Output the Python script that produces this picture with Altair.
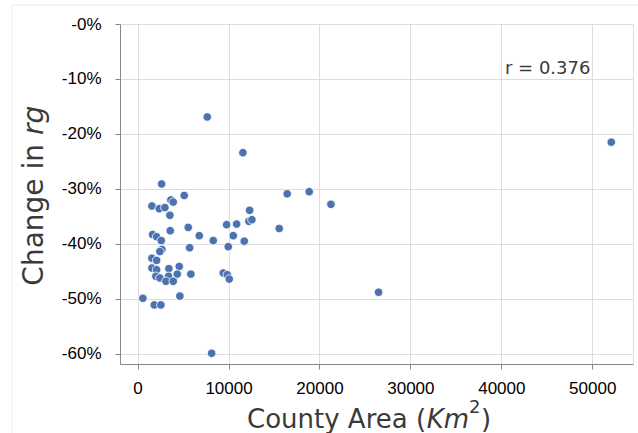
import altair as alt
import pandas as pd

# County land area (km^2) and relative change in rg for each county
area_km2 = [
    2640, 16450, 18870, 5125, 3660, 3920, 1573, 2380, 3000, 3550,
    12320, 12240, 12570, 9790, 10890, 15575, 5570, 3590, 1650, 2090,
    2600, 6780, 8320, 10520, 11730, 9970, 5720, 2670, 2450, 1573,
    2090, 1573, 2090, 4580, 3440, 9420, 9860, 10080, 5860, 2010,
    2450, 3410, 4360, 3110, 3920, 583, 4650, 1830, 2560, 8140,
    7660, 11580, 52090, 26500, 21260,
]
change_rg = [
    -0.291, -0.309, -0.305, -0.312, -0.320, -0.324, -0.331, -0.336, -0.334, -0.348,
    -0.339, -0.359, -0.356, -0.365, -0.364, -0.372, -0.370, -0.376, -0.383, -0.387,
    -0.394, -0.385, -0.394, -0.385, -0.395, -0.405, -0.407, -0.410, -0.414, -0.426,
    -0.430, -0.444, -0.447, -0.441, -0.445, -0.453, -0.456, -0.464, -0.455, -0.459,
    -0.462, -0.459, -0.455, -0.468, -0.468, -0.499, -0.495, -0.511, -0.511, -0.599,
    -0.169, -0.234, -0.215, -0.488, -0.328,
]
x_ticks = [0, 10000, 20000, 30000, 40000, 50000]
y_ticks = [-0.6, -0.5, -0.4, -0.3, -0.2, -0.1, 0.0]
r_label = "r = 0.376"

df = pd.DataFrame({"area": area_km2, "change": change_rg})

FONT = "DejaVu Sans"
TEXT = "#3a3a3a"
W, H = 513, 340

x_scale = alt.Scale(domain=[-1936, 54480], nice=False, zero=False)
y_scale = alt.Scale(domain=[-0.6185, 0.0], nice=False, zero=False)

points = alt.Chart(df).mark_circle(
    size=72, color="#4C72B0", opacity=1, stroke="white", strokeWidth=0.8
).encode(
    x=alt.X("area:Q", scale=x_scale,
            axis=alt.Axis(values=x_ticks, title=None, labelFontSize=17,
                          labelPadding=11, format="d")),
    y=alt.Y("change:Q", scale=y_scale,
            axis=alt.Axis(values=y_ticks, title=None, labelFontSize=17,
                          labelPadding=14,
                          labelExpr="'-' + round(abs(datum.value) * 100) + '%'")),
)

r_text = alt.Chart(pd.DataFrame({"x": [40400], "y": [-0.0905], "t": [r_label]})).mark_text(
    align="left", baseline="alphabetic", fontSize=18, font=FONT, color=TEXT
).encode(x=alt.X("x:Q", scale=x_scale), y=alt.Y("y:Q", scale=y_scale), text="t:N")


def label(text, x, y, size, style="normal", angle=0, align="left"):
    return alt.Chart(pd.DataFrame({"t": [text]})).mark_text(
        align=align, baseline="alphabetic", fontSize=size, font=FONT,
        fontStyle=style, color=TEXT, angle=angle
    ).encode(x=alt.value(x), y=alt.value(y), text="t:N")


# x-axis title: County Area (Km^2) with italic units and a raised exponent
x_title = (
    label("County Area (", 127, 404, 26)
    + label("Km", 306.7, 404, 26, "italic")
    + label("2", 349, 389, 18)
    + label(")", 361, 404, 26)
)
# y-axis title: Change in rg, reading bottom to top
y_title = (
    label("Change in", -77, 120, 28, angle=270, align="right")
    + label("rg", -77, 111, 28, "italic", angle=270)
)

# faint outer border lines
border = alt.Chart(pd.DataFrame({"a": [0]})).mark_rule(color="#ececec", strokeWidth=1).encode(
    x=alt.value(-108), x2=alt.value(520), y=alt.value(-19)
) + alt.Chart(pd.DataFrame({"a": [0]})).mark_rule(color="#ececec", strokeWidth=1).encode(
    x=alt.value(-108), y=alt.value(-19), y2=alt.value(412)
)

chart = alt.layer(border, points, r_text, x_title, y_title).properties(
    width=W, height=H,
    autosize=alt.AutoSizeParams(type="none"),
    padding={"left": 120, "top": 24, "right": 5, "bottom": 69},
).configure_view(
    stroke="#dcdcdc", strokeWidth=1.2
).configure_axis(
    grid=True, gridColor="#e2e2e2", gridWidth=1.2, domain=False, ticks=False,
    labelFont=FONT, labelColor=TEXT,
).configure(background="white")

chart.save("out.html", embed_options={"renderer": "svg", "actions": False})
